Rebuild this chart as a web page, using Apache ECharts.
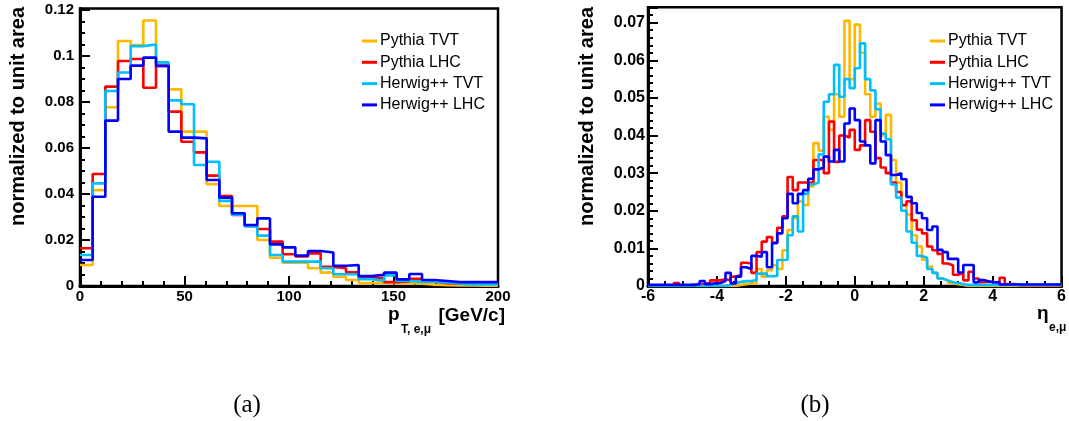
<!DOCTYPE html>
<html><head><meta charset="utf-8">
<script src="https://cdn.jsdelivr.net/npm/echarts@6/dist/echarts.min.js"></script>
<style>html,body{margin:0;padding:0;background:#fff}#c{width:1069px;height:421px}</style>
</head><body><div id="c"></div>
<script>
// ---------- data ----------
const seriesNames = ['Pythia TVT', 'Pythia LHC', 'Herwig++ TVT', 'Herwig++ LHC'];
const seriesColors = ['#FFB800', '#FF0000', '#00BFFF', '#0000FF'];

// left panel: pT (33 bins from 0 to 200)
const ptMin = 0, ptMax = 200, ptBins = 33;
const ptTicks = [0, 50, 100, 150, 200];
const ptPythiaTVT = [0.0091,0.0417,0.0777,0.1065,0.1048,0.1154,0.0967,0.0855,0.0671,0.0671,0.0443,0.0348,0.0348,0.0348,0.0200,0.0123,0.0101,0.0101,0.0077,0.0058,0.0040,0.0026,0.0013,0.0015,0.0012,0.0013,0.0010,0.0006,0.0003,0.0002,0.0002,0.0001,0.0001];
const ptPythiaLHC = [0.0164,0.0487,0.0867,0.0978,0.0987,0.0862,0.0957,0.0758,0.0627,0.0581,0.0480,0.0391,0.0309,0.0260,0.0248,0.0193,0.0138,0.0128,0.0142,0.0083,0.0077,0.0060,0.0035,0.0036,0.0017,0.0020,0.0031,0.0019,0.0012,0.0010,0.0013,0.0010,0.0010];
const ptHerwigTVT = [0.0135,0.0446,0.0848,0.0928,0.1043,0.1050,0.0972,0.0807,0.0790,0.0526,0.0540,0.0370,0.0310,0.0260,0.0219,0.0135,0.0106,0.0106,0.0106,0.0077,0.0051,0.0051,0.0030,0.0023,0.0046,0.0022,0.0019,0.0019,0.0015,0.0010,0.0007,0.0007,0.0007];
const ptHerwigLHC = [0.0113,0.0388,0.0719,0.0900,0.0958,0.0993,0.0957,0.0671,0.0645,0.0642,0.0461,0.0384,0.0316,0.0265,0.0294,0.0181,0.0168,0.0132,0.0152,0.0146,0.0088,0.0091,0.0043,0.0049,0.0058,0.0029,0.0052,0.0026,0.0022,0.0017,0.0017,0.0017,0.0017];

// right panel: eta (80 bins from -6 to 6)
const etaMin = -6, etaMax = 6, etaBins = 80;
const etaTicks = [-6, -4, -2, 0, 2, 4, 6];
const etaPythiaTVT = [0,0,0,0,0,0,0,0,0,0,0,0,0,0,0,0,0,
  0.0003,0.0005,0.0007,0.0006,0.0045,0.0025,0.0042,0.0055,0.0045,0.0095,0.0149,0.0180,0.0225,0.0215,0.0265,0.0380,0.0360,0.0450,0.0415,0.0510,0.0450,0.0705,0.0550,0.0695,0.0620,0.0510,0.0450,0.0485,0.0400,0.0455,0.0335,0.0275,0.0215,0.0190,0.0135,0.0105,0.0070,0.0052,0.0035,0.0020,0.0015,0.0008,0.0005,0.0003,
  0,0,0,0,0,0,0,0,0,0,0,0,0,0,0,0,0,0,0];
const etaPythiaLHC = [0,0,0,0.0002,0.0002,0.0008,0.0002,0.0002,0.0003,0.0003,0.0005,0.0008,0.0015,0.0015,0.0018,0.0015,0.0025,0.0030,0.0062,0.0060,0.0035,0.0090,0.0118,0.0130,0.0115,0.0155,0.0185,0.0290,0.0255,0.0275,0.0275,0.0275,0.0335,0.0335,0.0300,0.0437,0.0330,0.0400,0.0395,0.0415,0.0362,0.0374,0.0441,0.0410,0.0340,0.0315,0.0300,0.0275,0.0250,0.0215,0.0225,0.0175,0.0150,0.0140,0.0105,0.0095,0.0085,0.0060,0.0055,0.0030,0.0035,0.0015,0.0038,0.0020,0.0010,0.0012,0.0010,0.0008,0.0022,0.0005,0.0005,
  0.0002,0.0002,0.0002,0.0002,0.0002,0.0002,0.0002,0.0002,0.0002];
const etaHerwigTVT = [0,0,0,0,0,0,0,0,0,0,0,0,0,0,0,
  0.0003,0.0007,0.0011,0.0013,0.0013,0.0016,0.0033,0.0033,0.0026,0.0027,0.0069,0.0070,0.0135,0.0185,0.0145,0.0245,0.0270,0.0275,0.0350,0.0490,0.0510,0.0588,0.0503,0.0550,0.0526,0.0579,0.0645,0.0550,0.0520,0.0470,0.0405,0.0390,0.0270,0.0235,0.0200,0.0145,0.0115,0.0080,0.0075,0.0045,0.0035,0.0020,0.0015,0.0010,0.0008,0.0005,
  0.0003,0.0003,0.0003,0.0003,0.0003,0.0003,0.0003,0.0003,0.0003,0.0003,0.0003,0.0003,0.0003,0.0003,0.0003,0.0003,0.0003,0.0003,0.0003];
const etaHerwigLHC = [0.0003,0.0003,0.0003,0.0003,0.0003,0.0003,0.0003,0.0003,0.0003,
  0.0005,0.0013,0.0005,0.0007,0.0008,0.0013,0.0035,0.0007,0.0025,0.0050,0.0045,0.0080,0.0078,0.0090,0.0050,0.0114,0.0140,0.0180,0.0245,0.0220,0.0245,0.0255,0.0285,0.0310,0.0315,0.0344,0.0331,0.0362,0.0331,0.0432,0.0472,0.0441,0.0384,0.0374,0.0326,0.0441,0.0384,0.0348,0.0295,0.0300,0.0284,0.0237,0.0220,0.0194,0.0180,0.0149,0.0158,0.0096,0.0090,0.0072,0.0072,0.0036,0.0056,0.0056,0.0010,0.0016,0.0012,0.0010,0.0010,
  0.0004,0.0004,0.0004,0.0004,0.0004,0.0004,0.0004,0.0004,0.0004,0.0004,0.0004,0.0004];

// ---------- helpers ----------
function histData(values, lo, hi) {
  const bw = (hi - lo) / values.length;
  const d = values.map((v, i) => [lo + i * bw, v]);
  d.push([hi, values[values.length - 1]]);
  return d;
}
const FONT = '"Liberation Sans", Arial, Helvetica, sans-serif';
function xAx(grid, lo, hi, iv, minor, ticks, fs) {
  return {
    type: 'value', gridIndex: grid, min: lo, max: hi, interval: iv,
    axisLine: { onZero: false, lineStyle: { color: '#000', width: 3 } },
    axisTick: { inside: true, length: 10, lineStyle: { color: '#000', width: 2 } },
    minorTick: { show: true, splitNumber: minor, length: 5, lineStyle: { color: '#000', width: 2 } },
    axisLabel: { color: '#000', fontWeight: 'bold', fontSize: fs, fontFamily: FONT, margin: 3,
      formatter: v => ticks.includes(v) ? String(v) : '' },
    splitLine: { show: false }
  };
}
function yAx(grid, max, iv, minor, fs, mg) {
  return {
    type: 'value', gridIndex: grid, min: 0, max: max, interval: iv,
    axisLine: { onZero: false, lineStyle: { color: '#000', width: 3 } },
    axisTick: { inside: true, length: 10, lineStyle: { color: '#000', width: 2 } },
    minorTick: { show: true, splitNumber: minor, length: 5, lineStyle: { color: '#000', width: 2 } },
    axisLabel: { color: '#000', fontWeight: 'bold', fontSize: fs, fontFamily: FONT, margin: mg,
      formatter: v => { const r = Math.round(v / iv); return Math.abs(v / iv - r) < 1e-6 ? String(+(r * iv).toFixed(3)) : ''; } },
    splitLine: { show: false }
  };
}
const ptSets = [ptPythiaTVT, ptPythiaLHC, ptHerwigTVT, ptHerwigLHC];
const etaSets = [etaPythiaTVT, etaPythiaLHC, etaHerwigTVT, etaHerwigLHC];
const series = [];
seriesNames.forEach((n, i) => {
  series.push({ name: n, type: 'line', xAxisIndex: 0, yAxisIndex: 0, step: 'end', showSymbol: false,
    data: histData(ptSets[i], ptMin, ptMax), lineStyle: { color: seriesColors[i], width: 2.6 },
    itemStyle: { color: seriesColors[i] }, animation: false, z: 2 + i });
});
seriesNames.forEach((n, i) => {
  series.push({ name: n, type: 'line', xAxisIndex: 1, yAxisIndex: 1, step: 'end', showSymbol: false,
    data: histData(etaSets[i], etaMin, etaMax), lineStyle: { color: seriesColors[i], width: 2.6 },
    itemStyle: { color: seriesColors[i] }, animation: false, z: 2 + i });
});
function legend(left) {
  return {
    data: seriesNames, orient: 'vertical', left: left, top: 33, padding: 0, icon: 'rect',
    itemWidth: 15, itemHeight: 3, itemGap: 5.3, selectedMode: false,
    textStyle: { color: '#000', fontSize: 16, lineHeight: 16, fontFamily: FONT, padding: [0, 0, 0, -2] }
  };
}
function txt(x, y, text, font, align, vAlign, rot) {
  return { type: 'text', x: x, y: y, rotation: rot || 0, silent: true,
    style: { text: text, font: font, fill: '#000', align: align, verticalAlign: vAlign, textAlign: align, textVerticalAlign: vAlign } };
}
const option = {
  animation: false,
  backgroundColor: '#fff',
  grid: [
    { left: 80, top: 8.6, width: 418, height: 277.4, show: true, borderColor: '#000', borderWidth: 2.5, backgroundColor: 'transparent' },
    { left: 648, top: 7.3, width: 418, height: 278.7, show: true, borderColor: '#000', borderWidth: 2.5, backgroundColor: 'transparent' }
  ],
  xAxis: [xAx(0, ptMin, ptMax, 50, 5, ptTicks, 15), xAx(1, etaMin, etaMax, 2, 4, etaTicks, 16)],
  yAxis: [yAx(0, 0.1206, 0.02, 4, 15, 6), yAx(1, 0.0741, 0.01, 5, 16, 3)],
  legend: [legend(362), legend(930)],
  series: series,
  graphic: [
    txt(18, 7, 'normalized to unit area', 'bold 20px ' + FONT, 'right', 'middle', Math.PI / 2),
    txt(587, 7, 'normalized to unit area', 'bold 20px ' + FONT, 'right', 'middle', Math.PI / 2),
    txt(388, 315, 'p', 'bold 19px ' + FONT, 'left', 'middle'),
    txt(401, 330, 'T, e,μ', 'bold 12px ' + FONT, 'left', 'middle'),
    txt(505, 316, '[GeV/c]', 'bold 19px ' + FONT, 'right', 'middle'),
    txt(1037, 314, 'η', 'bold 19px ' + FONT, 'left', 'middle'),
    txt(1049, 328, 'e,μ', 'bold 12px ' + FONT, 'left', 'middle'),
    txt(247, 405, '(a)', '25px "Liberation Serif", "DejaVu Serif", serif', 'center', 'middle'),
    txt(815, 405, '(b)', '25px "Liberation Serif", "DejaVu Serif", serif', 'center', 'middle')
  ]
};
const chart = echarts.init(document.getElementById('c'), null, { renderer: 'canvas' });
chart.setOption(option);
</script>
</body></html>
